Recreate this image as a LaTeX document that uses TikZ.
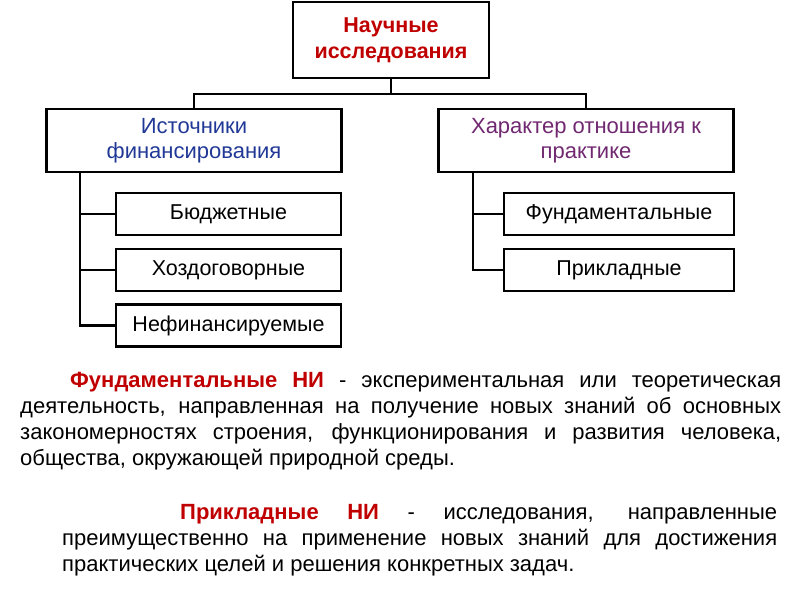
\documentclass[tikz,border=0pt]{standalone}
\usepackage{fontspec}
\setmainfont{Liberation Sans}
\definecolor{titlered}{RGB}{192,0,0}
\definecolor{srcblue}{RGB}{32,56,150}
\definecolor{practpurple}{RGB}{112,40,112}
\newcommand{\hl}[1]{{\bfseries\color{titlered}#1}}

\begin{document}
\begin{tikzpicture}[x=1pt, y=-1pt,
		box/.style={draw, line width=2.5pt, align=center, inner sep=0pt},
		headbox/.style={box, minimum width=196pt, minimum height=76pt, text=titlered, font=\fontsize{21.5}{26}\selectfont\bfseries},
		groupbox/.style={box, minimum width=295pt, minimum height=63pt, font=\fontsize{22}{25}\selectfont},
		itembox/.style={box, minimum height=42pt, font=\fontsize{21.5}{23}\selectfont},
		link/.style={line width=2.5pt},
		para/.style={anchor=north west, inner sep=0pt, align=justify, font=\fontsize{22}{26}\selectfont}]
	\useasboundingbox (0,0) rectangle (800,600);
	\node[headbox] (nauka) at (391,40) {Научные\\исследования};
	\node[groupbox, text=srcblue] (istoch) at (194,140.5) {Источники\\финансирования};
	\node[groupbox, text=practpurple] (harakt) at (586,140.5) {Характер отношения к\\практике};
	\node[itembox, minimum width=225pt] (budzh) at (228.5,214) {Бюджетные};
	\node[itembox, minimum width=225pt] (hozd) at (228.5,270) {Хоздоговорные};
	\node[itembox, minimum width=225pt] (nefin) at (228.5,325.5) {Нефинансируемые};
	\node[itembox, minimum width=230pt] (fund) at (619,214) {Фундаментальные};
	\node[itembox, minimum width=230pt] (prikl) at (619,270) {Прикладные};
	\coordinate (razv) at (391,94);
	\coordinate (ltrunk) at (80,172);
	\coordinate (rtrunk) at (473,172);
	\draw[link] (nauka.south) -- (razv);
	\draw[link] (istoch.north) |- (razv) -| (harakt.north);
	\draw[link] (ltrunk) |- (budzh.west);
	\draw[link] (ltrunk) |- (hozd.west);
	\draw[link] (ltrunk) |- (nefin.west);
	\draw[link] (rtrunk) |- (fund.west);
	\draw[link] (rtrunk) |- (prikl.west);
	% definitions under the chart
	\node[para, text width=761pt] (fundtext) at (20,369) {\strut\hspace*{50pt}\hl{Фундаментальные НИ} - экспериментальная или теоретическая\linebreak
		деятельность, направленная на получение новых знаний об основных\linebreak
		закономерностях строения, функционирования и развития человека,\linebreak
		общества, окружающей природной среды.};
	\node[para, text width=715pt] (prikltext) at (62,501) {\strut\hspace*{118pt}\hl{Прикладные НИ} - исследования, направленные\linebreak
		преимущественно на применение новых знаний для достижения\linebreak
		практических целей и решения конкретных задач.};
\end{tikzpicture}
\end{document}
